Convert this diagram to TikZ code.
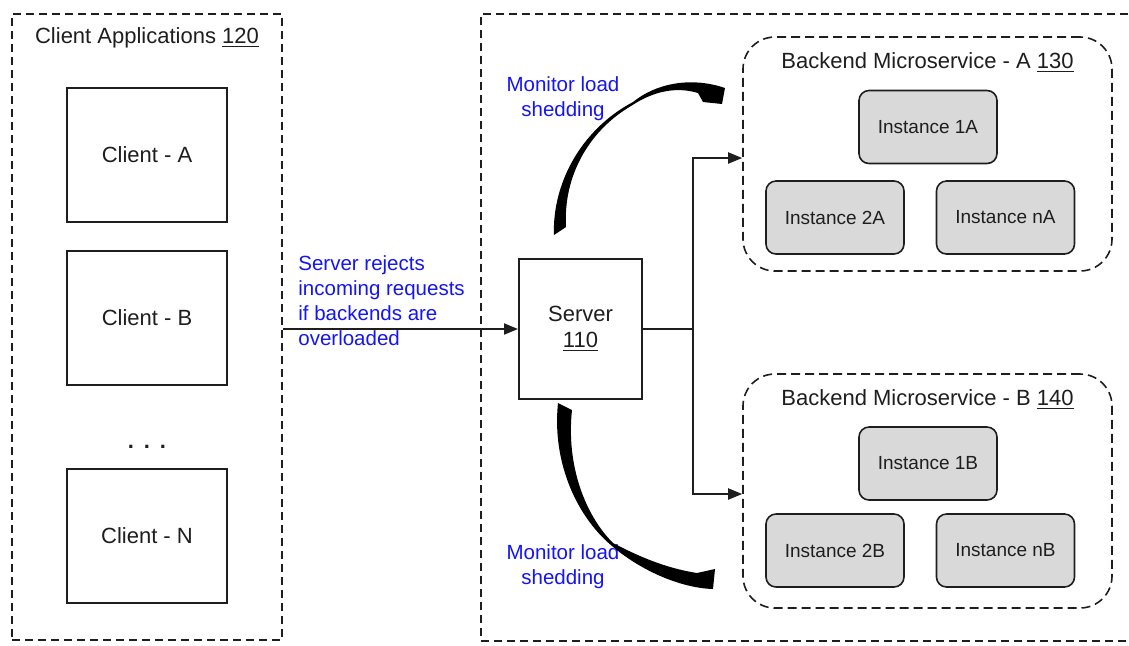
\documentclass[tikz,border=0pt]{standalone}
\usepackage{fontspec}
\setmainfont{Liberation Sans}
\usepackage{xcolor}
\definecolor{InkGray}{RGB}{30,30,30}
\definecolor{NoteBlue}{RGB}{20,20,245}
\definecolor{InstGray}{RGB}{217,217,217}
\usetikzlibrary{arrows.meta}

\begin{document}
\begin{tikzpicture}[x=0.5pt,y=-0.5pt,
    every node/.style={text=InkGray},
    outerbox/.style={draw=InkGray,line width=1pt,dash pattern=on 4pt off 2.5pt},
    svcbox/.style={draw=InkGray,line width=0.8pt,dash pattern=on 4.5pt off 2.5pt,rounded corners=16pt,
                   minimum width=184.5pt,minimum height=117pt},
    clientbox/.style={draw=InkGray,line width=1pt,minimum width=80pt,minimum height=67pt,
                      font=\fontsize{11}{13}\selectfont},
    instbox/.style={draw=InkGray,fill=InstGray,line width=0.8pt,rounded corners=5pt,
                    minimum width=69pt,minimum height=36.5pt,font=\fontsize{9.5}{11}\selectfont},
    heading/.style={font=\fontsize{11}{13}\selectfont},
    note/.style={text=NoteBlue,inner sep=0pt,font=\fontsize{10.25}{12.5}\selectfont},
    conn/.style={draw=InkGray,line width=1pt,-{Triangle[length=7pt,width=5.5pt]}}]
    \useasboundingbox (0,0) rectangle (1129,645);

    % client side
    \node[outerbox,minimum width=135pt,minimum height=313pt] (clients) at (147,327) {};
    \node[heading] (clientstitle) at (147,38) {Client Applications \underline{120}};
    \node[clientbox] (clienta) at (147,154.5) {Client - A};
    \node[clientbox] (clientb) at (147,318) {Client - B};
    \node[heading,font=\fontsize{11}{13}\selectfont\bfseries] (dots) at (147,447)
      {.\hspace{0.45em}.\hspace{0.45em}.};
    \node[clientbox] (clientn) at (147,536) {Client - N};

    % server side
    \node[outerbox,minimum width=330pt,minimum height=313.5pt] (serverside) at (811,327.5) {};
    \node[clientbox,minimum width=61.5pt,minimum height=70pt,align=center] (server) at (580.5,329)
      {\raisebox{-1.5pt}{Server}\\\raisebox{-1.5pt}{\underline{110}}};

    \node[svcbox] (backa) at (927.5,154) {};
    \node[heading] (backatitle) at (927.5,63) {Backend Microservice - A \underline{130}};
    \node[instbox] (inst1a) at (928,127) {Instance 1A};
    \node[instbox] (inst2a) at (835,217.5) {Instance 2A};
    \node[instbox] (instna) at (1005.5,217.5) {Instance nA};

    \node[svcbox] (backb) at (927.5,491) {};
    \node[heading] (backbtitle) at (927.5,400) {Backend Microservice - B \underline{140}};
    \node[instbox] (inst1b) at (928,463.5) {Instance 1B};
    \node[instbox] (inst2b) at (835,550.5) {Instance 2B};
    \node[instbox] (instnb) at (1005.5,550.5) {Instance nB};

    \draw[conn] (clients.east |- server.west) -- (server.west);
    \node[note,anchor=west,align=left] (rejectnote) at (298,301)
      {Server rejects\\incoming requests\\if backends are\\overloaded};

    \coordinate (fork) at (693,329);
    \draw[draw=InkGray,line width=1pt] (server.east) -- (fork);
    \draw[conn] (fork) |- ([yshift=-2pt]backa.west);
    \draw[conn] (fork) |- ([yshift=-1.5pt]backb.west);

    % load shedding monitors
    \node[note,align=center] (monitortop) at (563,99) {Monitor load\\shedding};
    \node[note,align=center] (monitorbot) at (563,567) {Monitor load\\shedding};
    \fill[black] (554,235) .. controls (552,185) and (580,130) .. (633,102)
      .. controls (655,84) and (690,76) .. (725,88) -- (722,104) -- (703,102) -- (698,93)
      .. controls (675,86) and (652,92) .. (631,106)
      .. controls (590,130) and (563,175) .. (566,227) -- cycle;
    \fill[black] (558,403) .. controls (552,460) and (575,515) .. (612,546)
      .. controls (640,570) and (680,588) .. (713,589) -- (715,569) -- (697,573)
      .. controls (665,568) and (638,556) .. (613,543)
      .. controls (585,515) and (566,465) .. (572,410) -- cycle;
  \end{tikzpicture}
\end{document}
